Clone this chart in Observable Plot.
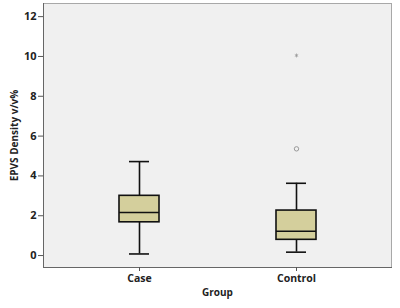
<!DOCTYPE html>
<html>
<head>
<meta charset="utf-8">
<script src="https://cdn.jsdelivr.net/npm/d3@7"></script>
<script src="https://cdn.jsdelivr.net/npm/@observablehq/plot@0.6"></script>
<style>
  html, body { margin: 0; padding: 0; background: #fff; }
  #chart svg { display: block; }
</style>
</head>
<body>
<div id="chart"></div>
<script>
const groups = ["Case", "Control"];
const whiskerLow = [0.08, 0.17];
const q1 = [1.67, 0.79];
const median = [2.16, 1.22];
const q3 = [3.0, 2.26];
const whiskerHigh = [4.72, 3.63];
const outlierGroup = ["Control"];
const outlierValue = [5.36];
const extremeGroup = ["Control"];
const extremeValue = [10.05];
const yTicks = [0, 2, 4, 6, 8, 10, 12];
const xTitle = "Group";
const yTitle = "EPVS Density v/v%";

const boxes = groups.map((g, i) => ({
  group: g, lo: whiskerLow[i], q1: q1[i], med: median[i], q3: q3[i], hi: whiskerHigh[i]
}));
const outliers = outlierGroup.map((g, i) => ({group: g, value: outlierValue[i]}));
const extremes = extremeGroup.map((g, i) => ({group: g, value: extremeValue[i]}));

const font = "'Open Sans', sans-serif";

const plot = Plot.plot({
  width: 400,
  height: 308,
  marginLeft: 43,
  marginRight: 9,
  marginTop: 3,
  marginBottom: 41,
  style: {fontFamily: font, background: "#fff", overflow: "visible"},
  x: {type: "band", domain: groups, paddingInner: 0.747, paddingOuter: 0.475},
  y: {domain: [-0.6, 12.66]},
  marks: [
    Plot.frame({fill: "#f0f0f0", stroke: "#a8a8a8"}),
    Plot.frame({anchor: "left", stroke: "#666"}),
    Plot.frame({anchor: "bottom", stroke: "#666"}),
    Plot.axisY({
      ticks: yTicks, tickSize: 5, tickPadding: 2, fontSize: 11, fontWeight: "bold",
      stroke: "#555", fill: "#222", label: null
    }),
    Plot.axisX({
      tickSize: 4, tickPadding: 3, fontSize: 10.5, fontWeight: "bold",
      stroke: "#555", fill: "#222", label: null
    }),
    Plot.text([xTitle], {
      frameAnchor: "bottom", dy: 28, fontSize: 10, fontWeight: "bold", fill: "#222"
    }),
    Plot.text([yTitle], {
      frameAnchor: "left", textAnchor: "middle", dx: -29, dy: 0, rotate: -90,
      fontSize: 10, fontWeight: "bold", fill: "#222"
    }),
    Plot.ruleX(boxes, {x: "group", y1: "lo", y2: "hi", stroke: "#111", strokeWidth: 1.6}),
    Plot.tickY(boxes, {x: "group", y: "lo", stroke: "#111", strokeWidth: 1.6, insetLeft: 10, insetRight: 10}),
    Plot.tickY(boxes, {x: "group", y: "hi", stroke: "#111", strokeWidth: 1.6, insetLeft: 10, insetRight: 10}),
    Plot.barY(boxes, {x: "group", y1: "q1", y2: "q3", fill: "#d4cf9c", stroke: "#111", strokeWidth: 1.6}),
    Plot.tickY(boxes, {x: "group", y: "med", stroke: "#111", strokeWidth: 1.6}),
    Plot.dot(outliers, {x: "group", y: "value", r: 2.2, stroke: "#999", strokeWidth: 1, fill: "none"}),
    Plot.dot(extremes, {x: "group", y: "value", symbol: "asterisk", r: 1.8, stroke: "#999", strokeWidth: 0.8})
  ]
});
document.getElementById("chart").appendChild(plot);
</script>
</body>
</html>
